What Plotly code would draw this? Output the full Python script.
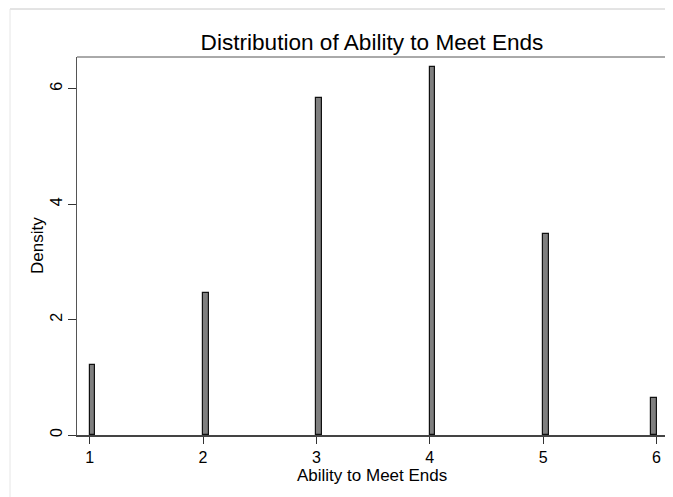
import plotly.graph_objects as go

# Data
categories = [1, 2, 3, 4, 5, 6]
density = [1.206, 2.46, 5.84, 6.37, 3.49, 0.634]
y_ticks = [0, 2, 4, 6]
x_ticks = [1, 2, 3, 4, 5, 6]

title_text = "Distribution of Ability to Meet Ends"
x_title = "Ability to Meet Ends"
y_title = "Density"

# histogram binning: 100 bins over [min, max]
n_bins = 100
lo, hi = min(categories), max(categories)
bw = (hi - lo) / n_bins
bin_idx = [min(int((c - lo) / bw + 1e-9), n_bins - 1) for c in categories]
bin_centers = [lo + (i + 0.5) * bw for i in bin_idx]

OFF = 8  # default page body margin
VW, VH = 673, 497
W, H = VW - OFF, VH - OFF
L, R, T, B = 77 - OFF, 6, 57 - OFF, 62
pw = W - L - R
ph = H - T - B

fig = go.Figure()
fig.add_trace(go.Bar(
    x=bin_centers, y=density, width=bw,
    marker=dict(color="#7f7f7f", line=dict(color="#111111", width=1.2)),
    showlegend=False, hoverinfo="x+y",
))

fig.update_layout(
    width=W, height=H,
    margin=dict(l=L, r=R, t=T, b=B, pad=0),
    paper_bgcolor="white", plot_bgcolor="white",
    font=dict(family="Liberation Sans, Arial, sans-serif", color="#000000"),
    title=dict(text=title_text, x=(L + (W - R - L) / 2) / W, xanchor="center",
               y=1 - (42 - OFF) / H, yanchor="middle",
               font=dict(size=22.6, color="#000000")),
    bargap=0,
)

fig.update_xaxes(
    range=[0.888, 6.092], tickvals=x_ticks, ticktext=[str(v) for v in x_ticks],
    ticks="outside", ticklen=7, tickcolor="#333333", tickwidth=1,
    tickfont=dict(size=16), showgrid=False, zeroline=False,
    showline=True, linecolor="#444444", linewidth=1.5, mirror=False,
)
fig.update_yaxes(
    range=[0, 6.55], tickvals=y_ticks, ticktext=[str(v) for v in y_ticks],
    ticks="outside", ticklen=8, tickcolor="#333333", tickwidth=1,
    tickangle=-90, tickfont=dict(size=16), showgrid=False, zeroline=False,
    showline=True, linecolor="#555555", linewidth=1, mirror=False,
)

# axis titles
fig.add_annotation(text=x_title, xref="paper", yref="paper", x=0.5,
                   y=-(476 - 435.3) / ph, xanchor="center", yanchor="middle",
                   showarrow=False, font=dict(size=17))
fig.add_annotation(text=y_title, xref="paper", yref="paper", x=-(77 - 37) / pw,
                   y=0.5, xanchor="center", yanchor="middle", textangle=-90,
                   showarrow=False, font=dict(size=17))

# frame: top and right borders
fig.add_shape(type="line", xref="paper", yref="paper", x0=0, x1=1, y0=1, y1=1,
              line=dict(color="#555555", width=1))
fig.add_shape(type="line", xref="paper", yref="paper", x0=1, x1=1, y0=0, y1=1,
              line=dict(color="#777777", width=2))
# outer light border (top and left)
ox = (10 - OFF - L) / pw
oy = (H - B - (9 - OFF)) / ph
fig.add_shape(type="line", xref="paper", yref="paper", x0=ox, x1=(W - L) / pw, y0=oy, y1=oy,
              line=dict(color="#c8c8c8", width=1))
fig.add_shape(type="line", xref="paper", yref="paper", x0=ox, x1=ox, y0=oy, y1=-B / ph,
              line=dict(color="#e6e6e6", width=1))

fig.write_html("out.html")
